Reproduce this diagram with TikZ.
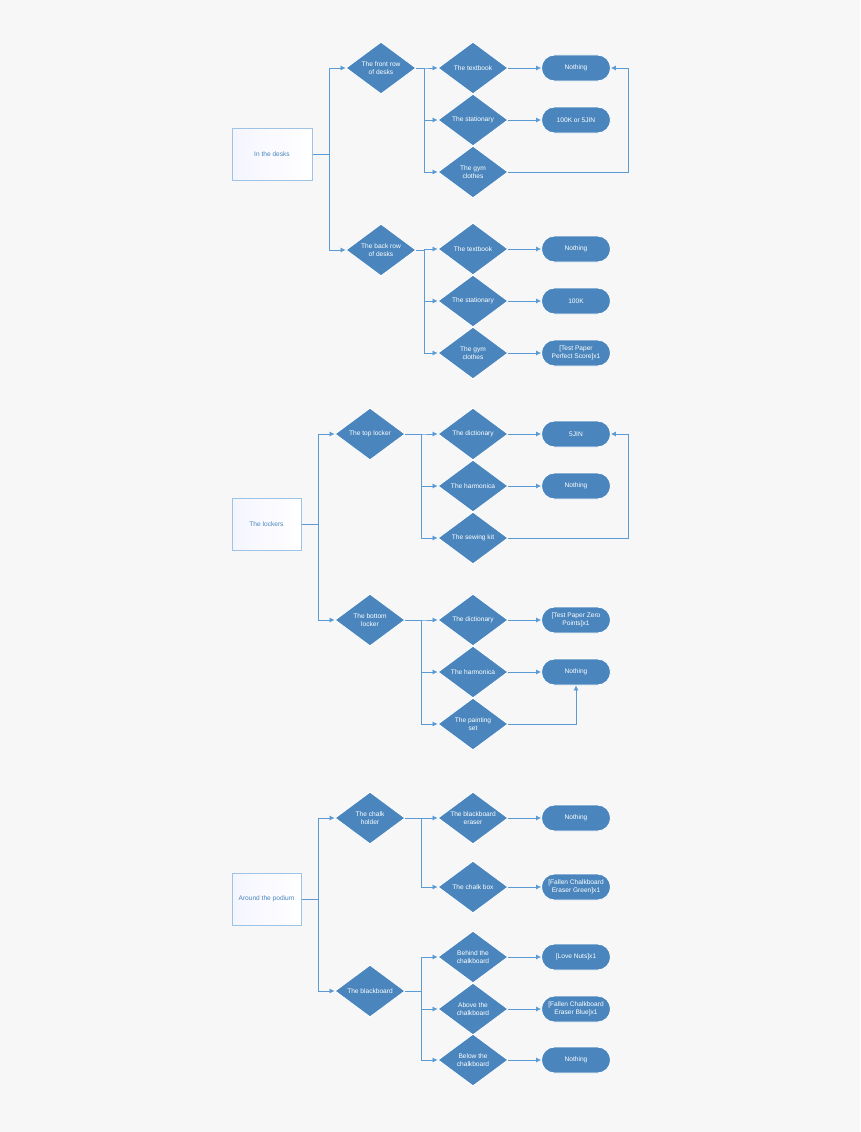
\documentclass[tikz,border=0pt]{standalone}
\usepackage{fontspec}
\setmainfont{Liberation Sans}
\usetikzlibrary{shapes.geometric,arrows.meta}
\definecolor{bg}{HTML}{F7F7F7}
\definecolor{dfill}{HTML}{4A86BD}
\definecolor{lineb}{HTML}{5B9BD5}
\definecolor{rtext}{HTML}{4A86BD}
\tikzset{
 dia/.style={diamond,fill=dfill,draw=white,line width=0.8pt,minimum width=70pt,minimum height=52pt,inner sep=0pt,
   label={[text=white,font=\fontsize{6.6}{7.5}\selectfont,align=center]center:#1}},
 term/.style={rounded rectangle,fill=dfill,draw=white,line width=0.8pt,minimum width=69pt,minimum height=26pt,inner sep=0pt,
   text=white,font=\fontsize{6.6}{7.5}\selectfont,align=center},
 root/.style={rectangle,draw=lineb!60,line width=1pt,fill=white,left color=blue!4,right color=white,text=rtext,
   font=\fontsize{6.6}{7.5}\selectfont,align=center,minimum height=52pt},
 arr/.style={draw=lineb,line width=0.7pt,-{Latex[length=5pt,width=5pt]}},
}
\usetikzlibrary{shapes.misc}
\begin{document}
\begin{tikzpicture}[x=1pt,y=-1pt]
\fill[bg] (0,0) rectangle (860,1132);
% section 1
\node[root,minimum width=80pt] (r1) at (272,154) {In the desks};
\node[dia={The front row\\of desks}] (a1) at (381,68) {};
\node[dia={The back row\\of desks}] (a2) at (381,250) {};
\node[dia={The textbook}] (b11) at (473,68) {};
\node[dia={The stationary}] (b12) at (473,120) {};
\node[dia={The gym\\clothes}] (b13) at (473,172) {};
\node[dia={The textbook}] (b21) at (473,249) {};
\node[dia={The stationary}] (b22) at (473,301) {};
\node[dia={The gym\\clothes}] (b23) at (473,353) {};
\node[term] (t11) at (576,68) {Nothing};
\node[term] (t12) at (576,120) {100K or 5JIN};
\node[term] (t21) at (576,249) {Nothing};
\node[term] (t22) at (576,301) {100K};
\node[term] (t23) at (576,353) {[Test Paper\\Perfect Score]x1};
\draw[arr] (r1.east) -- ++(17,0) |- (a1.west);
\draw[arr] (r1.east) -- ++(17,0) |- (a2.west);
\foreach \b in {b11,b12,b13} \draw[arr] (a1.east) -- ++(8,0) |- (\b.west);
\foreach \b in {b21,b22,b23} \draw[arr] (a2.east) -- ++(8,0) |- (\b.west);
\draw[arr] (b11.east) -- (t11.west);
\draw[arr] (b12.east) -- (t12.west);
\draw[arr] (b21.east) -- (t21.west);
\draw[arr] (b22.east) -- (t22.west);
\draw[arr] (b23.east) -- (t23.west);
\coordinate (c1) at (628,172);
\draw[arr] (b13.east) -- (c1) |- (t11.east);
% section 2
\node[root,minimum width=69pt] (r2) at (266.5,524) {The lockers};
\node[dia={The top locker}] (a3) at (370,434) {};
\node[dia={The bottom\\locker}] (a4) at (370,620) {};
\node[dia={The dictionary}] (b31) at (473,434) {};
\node[dia={The harmonica}] (b32) at (473,486) {};
\node[dia={The sewing kit}] (b33) at (473,538) {};
\node[dia={The dictionary}] (b41) at (473,620) {};
\node[dia={The harmonica}] (b42) at (473,672) {};
\node[dia={The painting\\set}] (b43) at (473,724) {};
\node[term] (t31) at (576,434) {5JIN};
\node[term] (t32) at (576,486) {Nothing};
\node[term] (t41) at (576,620) {[Test Paper Zero\\Points]x1};
\node[term] (t42) at (576,672) {Nothing};
\draw[arr] (r2.east) -- ++(17,0) |- (a3.west);
\draw[arr] (r2.east) -- ++(17,0) |- (a4.west);
\foreach \b in {b31,b32,b33} \draw[arr] (a3.east) -- ++(16,0) |- (\b.west);
\foreach \b in {b41,b42,b43} \draw[arr] (a4.east) -- ++(16,0) |- (\b.west);
\draw[arr] (b31.east) -- (t31.west);
\draw[arr] (b32.east) -- (t32.west);
\draw[arr] (b41.east) -- (t41.west);
\draw[arr] (b42.east) -- (t42.west);
\coordinate (c2) at (628,538);
\draw[arr] (b33.east) -- (c2) |- (t31.east);
\draw[arr] (b43.east) -| (t42.south);
% section 3
\node[root,minimum width=69pt] (r3) at (266.5,899) {Around the podium};
\node[dia={The chalk\\holder}] (a5) at (370,818) {};
\node[dia={The blackboard}] (a6) at (370,991) {};
\node[dia={The blackboard\\eraser}] (b51) at (473,818) {};
\node[dia={The chalk box}] (b52) at (473,887) {};
\node[dia={Behind the\\chalkboard}] (b61) at (473,957) {};
\node[dia={Above the\\chalkboard}] (b62) at (473,1009) {};
\node[dia={Below the\\chalkboard}] (b63) at (473,1060) {};
\node[term] (t51) at (576,818) {Nothing};
\node[term] (t52) at (576,887) {[Fallen Chalkboard\\Eraser Green]x1};
\node[term] (t61) at (576,957) {[Love Nuts]x1};
\node[term] (t62) at (576,1009) {[Fallen Chalkboard\\Eraser Blue]x1};
\node[term] (t63) at (576,1060) {Nothing};
\draw[arr] (r3.east) -- ++(17,0) |- (a5.west);
\draw[arr] (r3.east) -- ++(17,0) |- (a6.west);
\foreach \b in {b51,b52} \draw[arr] (a5.east) -- ++(16,0) |- (\b.west);
\foreach \b in {b61,b62,b63} \draw[arr] (a6.east) -- ++(16,0) |- (\b.west);
\draw[arr] (b51.east) -- (t51.west);
\draw[arr] (b52.east) -- (t52.west);
\draw[arr] (b61.east) -- (t61.west);
\draw[arr] (b62.east) -- (t62.west);
\draw[arr] (b63.east) -- (t63.west);
\end{tikzpicture}
\end{document}
